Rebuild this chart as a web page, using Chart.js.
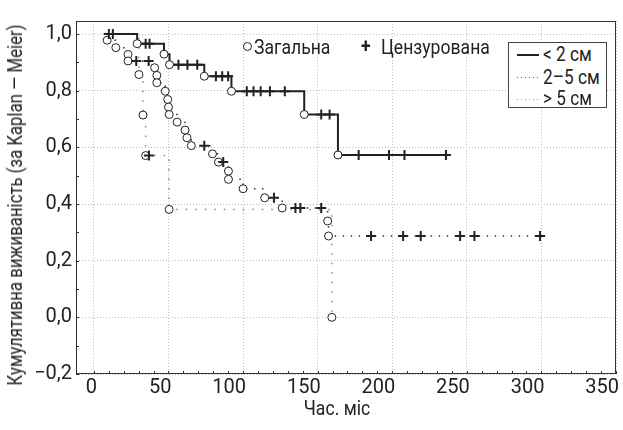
<!DOCTYPE html>
<html>
<head>
<meta charset="utf-8">
<script src="https://cdn.jsdelivr.net/npm/chart.js@4.4.1/dist/chart.umd.min.js"></script>
<style>
body { margin: 0; background: #fff; }
#wrap { position: relative; width: 623px; height: 430px; font-family: Roboto, "DejaVu Sans Condensed", sans-serif; color: #222; }
.lbl { position: absolute; font-size: 20px; line-height: 20px; white-space: nowrap; transform: scaleX(0.88); transform-origin: left center; }
.circ { position: absolute; width: 7px; height: 7px; border: 1px solid #222; border-radius: 50%; background: #fff; }
#box { position: absolute; left: 508px; top: 42px; width: 99px; height: 66px; border: 1px solid #444; box-sizing: border-box; background: #fff; }
.row { position: absolute; left: 34px; font-size: 20px; line-height: 20px; white-space: nowrap; transform: scaleX(0.86); transform-origin: left center; }
.smp { position: absolute; left: 8px; width: 22px; }
#ytitle { position: absolute; left: 15px; top: 205px; font-size: 20px; line-height: 20px; white-space: nowrap; transform: translate(-50%, -50%) rotate(-90deg) scaleX(0.84); }
#xtitle { position: absolute; left: 337px; top: 408px; font-size: 20px; line-height: 20px; white-space: nowrap; transform: translate(-50%, -50%) scaleX(0.88); }
</style>
</head>
<body>
<div id="wrap">
  <canvas id="chart-km" width="623" height="430"></canvas>
  <div id="ytitle">Кумулятивна виживаність (за Kaplan — Meier)</div>
  <div id="xtitle">Час. міс</div>
  <span class="circ" style="left:243px; top:42px;"></span>
  <span class="lbl" style="left:254px; top:37px;">Загальна</span>
  <span class="lbl" style="left:361px; top:36px; font-weight:bold;">+</span>
  <span class="lbl" style="left:381px; top:37px;">Цензурована</span>
  <div id="box">
    <div class="smp" style="top:11px; height:2px; background:#222;"></div>
    <div class="row" style="top:1px;">&lt; 2 см</div>
    <div class="smp" style="top:34px; height:1px; background:repeating-linear-gradient(to right, #555 0 1px, transparent 1px 4px);"></div>
    <div class="row" style="top:24px;">2–5 см</div>
    <div class="smp" style="top:56px; height:1px; background:repeating-linear-gradient(to right, #999 0 1px, transparent 1px 4px);"></div>
    <div class="row" style="top:45px;">&gt; 5 см</div>
  </div>
</div>
<script>
// tick labels
const xTicks = [0, 50, 100, 150, 200, 250, 300, 350];
const yTicks = [-0.2, 0, 0.2, 0.4, 0.6, 0.8, 1.0];

// < 2 см  ('o' = подія, '+' = цензурована, '' = початок)
const g1Months = [7.2, 10, 12.7, 29, 34.7, 37.3, 47, 50.7, 56.7, 62.7, 69.3, 74, 81.8, 86, 90, 92.2, 102.5, 107, 111.8, 118, 128, 141, 152.4, 158, 163.6, 177.5, 197.8, 208.2, 236];
const g1Surv   = [1, 1, 1, 0.966, 0.966, 0.966, 0.929, 0.892, 0.892, 0.892, 0.892, 0.851, 0.851, 0.851, 0.851, 0.798, 0.798, 0.798, 0.798, 0.798, 0.798, 0.716, 0.716, 0.716, 0.573, 0.573, 0.573, 0.573, 0.573];
const g1Marks  = ['', '+', '+', 'o', '+', '+', 'o', 'o', '+', '+', '+', 'o', '+', '+', '+', 'o', '+', '+', '+', '+', '+', 'o', '+', '+', 'o', '+', '+', '+', '+'];

// 2–5 см
const g2Months = [7.2, 8.9, 14.7, 22.9, 22.9, 28.4, 36.7, 40.7, 42.2, 42.2, 47.8, 49.5, 50, 50.5, 55.8, 61.1, 62.4, 65.3, 74, 79.5, 83.5, 86.7, 90.2, 90.2, 100, 114.5, 120.7, 126.2, 135.1, 138.4, 152.4, 156.7, 157.3, 185.8, 207.3, 219.1, 245.5, 255.1, 299.1];
const g2Surv   = [1, 0.978, 0.952, 0.928, 0.905, 0.905, 0.905, 0.881, 0.854, 0.828, 0.798, 0.769, 0.742, 0.716, 0.689, 0.661, 0.634, 0.606, 0.606, 0.577, 0.548, 0.548, 0.516, 0.487, 0.454, 0.422, 0.422, 0.386, 0.386, 0.386, 0.386, 0.340, 0.287, 0.287, 0.287, 0.287, 0.287, 0.287, 0.287];
const g2Marks  = ['', 'o', 'o', 'o', 'o', '+', '+', 'o', 'o', 'o', 'o', 'o', 'o', 'o', 'o', 'o', 'o', 'o', '+', 'o', 'o', '+', 'o', 'o', 'o', 'o', '+', 'o', '+', '+', '+', 'o', 'o', '+', '+', '+', '+', '+', '+'];

// > 5 см
const g3Months = [7.2, 30.2, 32.9, 34.7, 36.9, 50.4, 159.5];
const g3Surv   = [1, 0.857, 0.714, 0.571, 0.571, 0.381, 0];
const g3Marks  = ['', 'o', 'o', 'o', '+', 'o', 'o'];

function series(label, xs, ys, marks, color, width, dash) {
    return {
        label: label,
        data: xs.map((x, i) => ({ x: x, y: ys[i] })),
        stepped: 'before',
        borderColor: color,
        borderWidth: width,
        borderDash: dash,
        fill: false,
        pointStyle: marks.map(m => m === '+' ? 'cross' : 'circle'),
        pointRadius: marks.map(m => m === '' ? 0 : (m === '+' ? 5 : 4)),
        pointBorderWidth: marks.map(m => m === '+' ? 2 : 1),
        pointBorderColor: '#222',
        pointBackgroundColor: '#fff',
        pointHoverRadius: 0
    };
}

const fmtY = v => v.toFixed(1).replace('.', ',').replace('-', '\u2212');

// frame + small inward ticks
const framePlugin = {
    id: 'frame',
    afterDraw(chart) {
        const ctx = chart.ctx, a = chart.chartArea;
        const xs = chart.scales.x, ys = chart.scales.y;
        ctx.save();
        ctx.strokeStyle = '#333';
        ctx.lineWidth = 1;
        ctx.strokeRect(a.left + 0.5, a.top + 0.5, a.right - a.left - 1, a.bottom - a.top - 1);
        ctx.beginPath();
        for (let v = 0; v <= 350; v += 10) {
            const px = Math.round(xs.getPixelForValue(v)) + 0.5;
            ctx.moveTo(px, a.bottom);
            ctx.lineTo(px, a.bottom - 3);
        }
        for (let k = -2; k <= 10; k++) {
            const py = Math.round(ys.getPixelForValue(k / 10)) + 0.5;
            ctx.moveTo(a.left, py);
            ctx.lineTo(a.left + 3, py);
        }
        ctx.stroke();
        ctx.restore();
    }
};

const tickFont = { family: 'Roboto, sans-serif', size: 20 };

const config = {
    type: 'line',
    data: {
        datasets: [
            series('< 2 см', g1Months, g1Surv, g1Marks, '#222', 2, []),
            series('2–5 см', g2Months, g2Surv, g2Marks, '#333', 1.5, [1.5, 6.5]),
            series('> 5 см', g3Months, g3Surv, g3Marks, '#888', 1.5, [1.5, 8])
        ]
    },
    options: {
        responsive: false,
        animation: false,
        devicePixelRatio: 1,
        layout: { padding: { top: 21, right: 5, bottom: 0, left: 0 } },
        plugins: { legend: { display: false }, tooltip: { enabled: false } },
        scales: {
            x: {
                type: 'linear',
                min: -12,
                max: 350,
                afterBuildTicks: s => { s.ticks = xTicks.map(v => ({ value: v })); },
                afterFit: s => { s.height = 56; s.paddingRight = 0; },
                ticks: { color: '#222', font: tickFont, padding: 2, align: 'end', labelOffset: 3, maxRotation: 0, autoSkip: false, callback: v => String(v) },
                grid: { color: '#bdbdbd', lineWidth: 1, drawTicks: false },
                border: { display: false, dash: [1, 2] }
            },
            y: {
                min: -0.2,
                max: 1.046,
                afterBuildTicks: s => { s.ticks = yTicks.map(v => ({ value: v })); },
                afterFit: s => { s.width = 76; },
                ticks: { color: '#222', font: tickFont, padding: 4, autoSkip: false, callback: v => fmtY(v) },
                grid: { color: '#bdbdbd', lineWidth: 1, drawTicks: false },
                border: { display: false, dash: [1, 2] }
            }
        }
    },
    plugins: [framePlugin]
};

const myChart = new Chart(document.getElementById('chart-km'), config);
</script>
</body>
</html>
